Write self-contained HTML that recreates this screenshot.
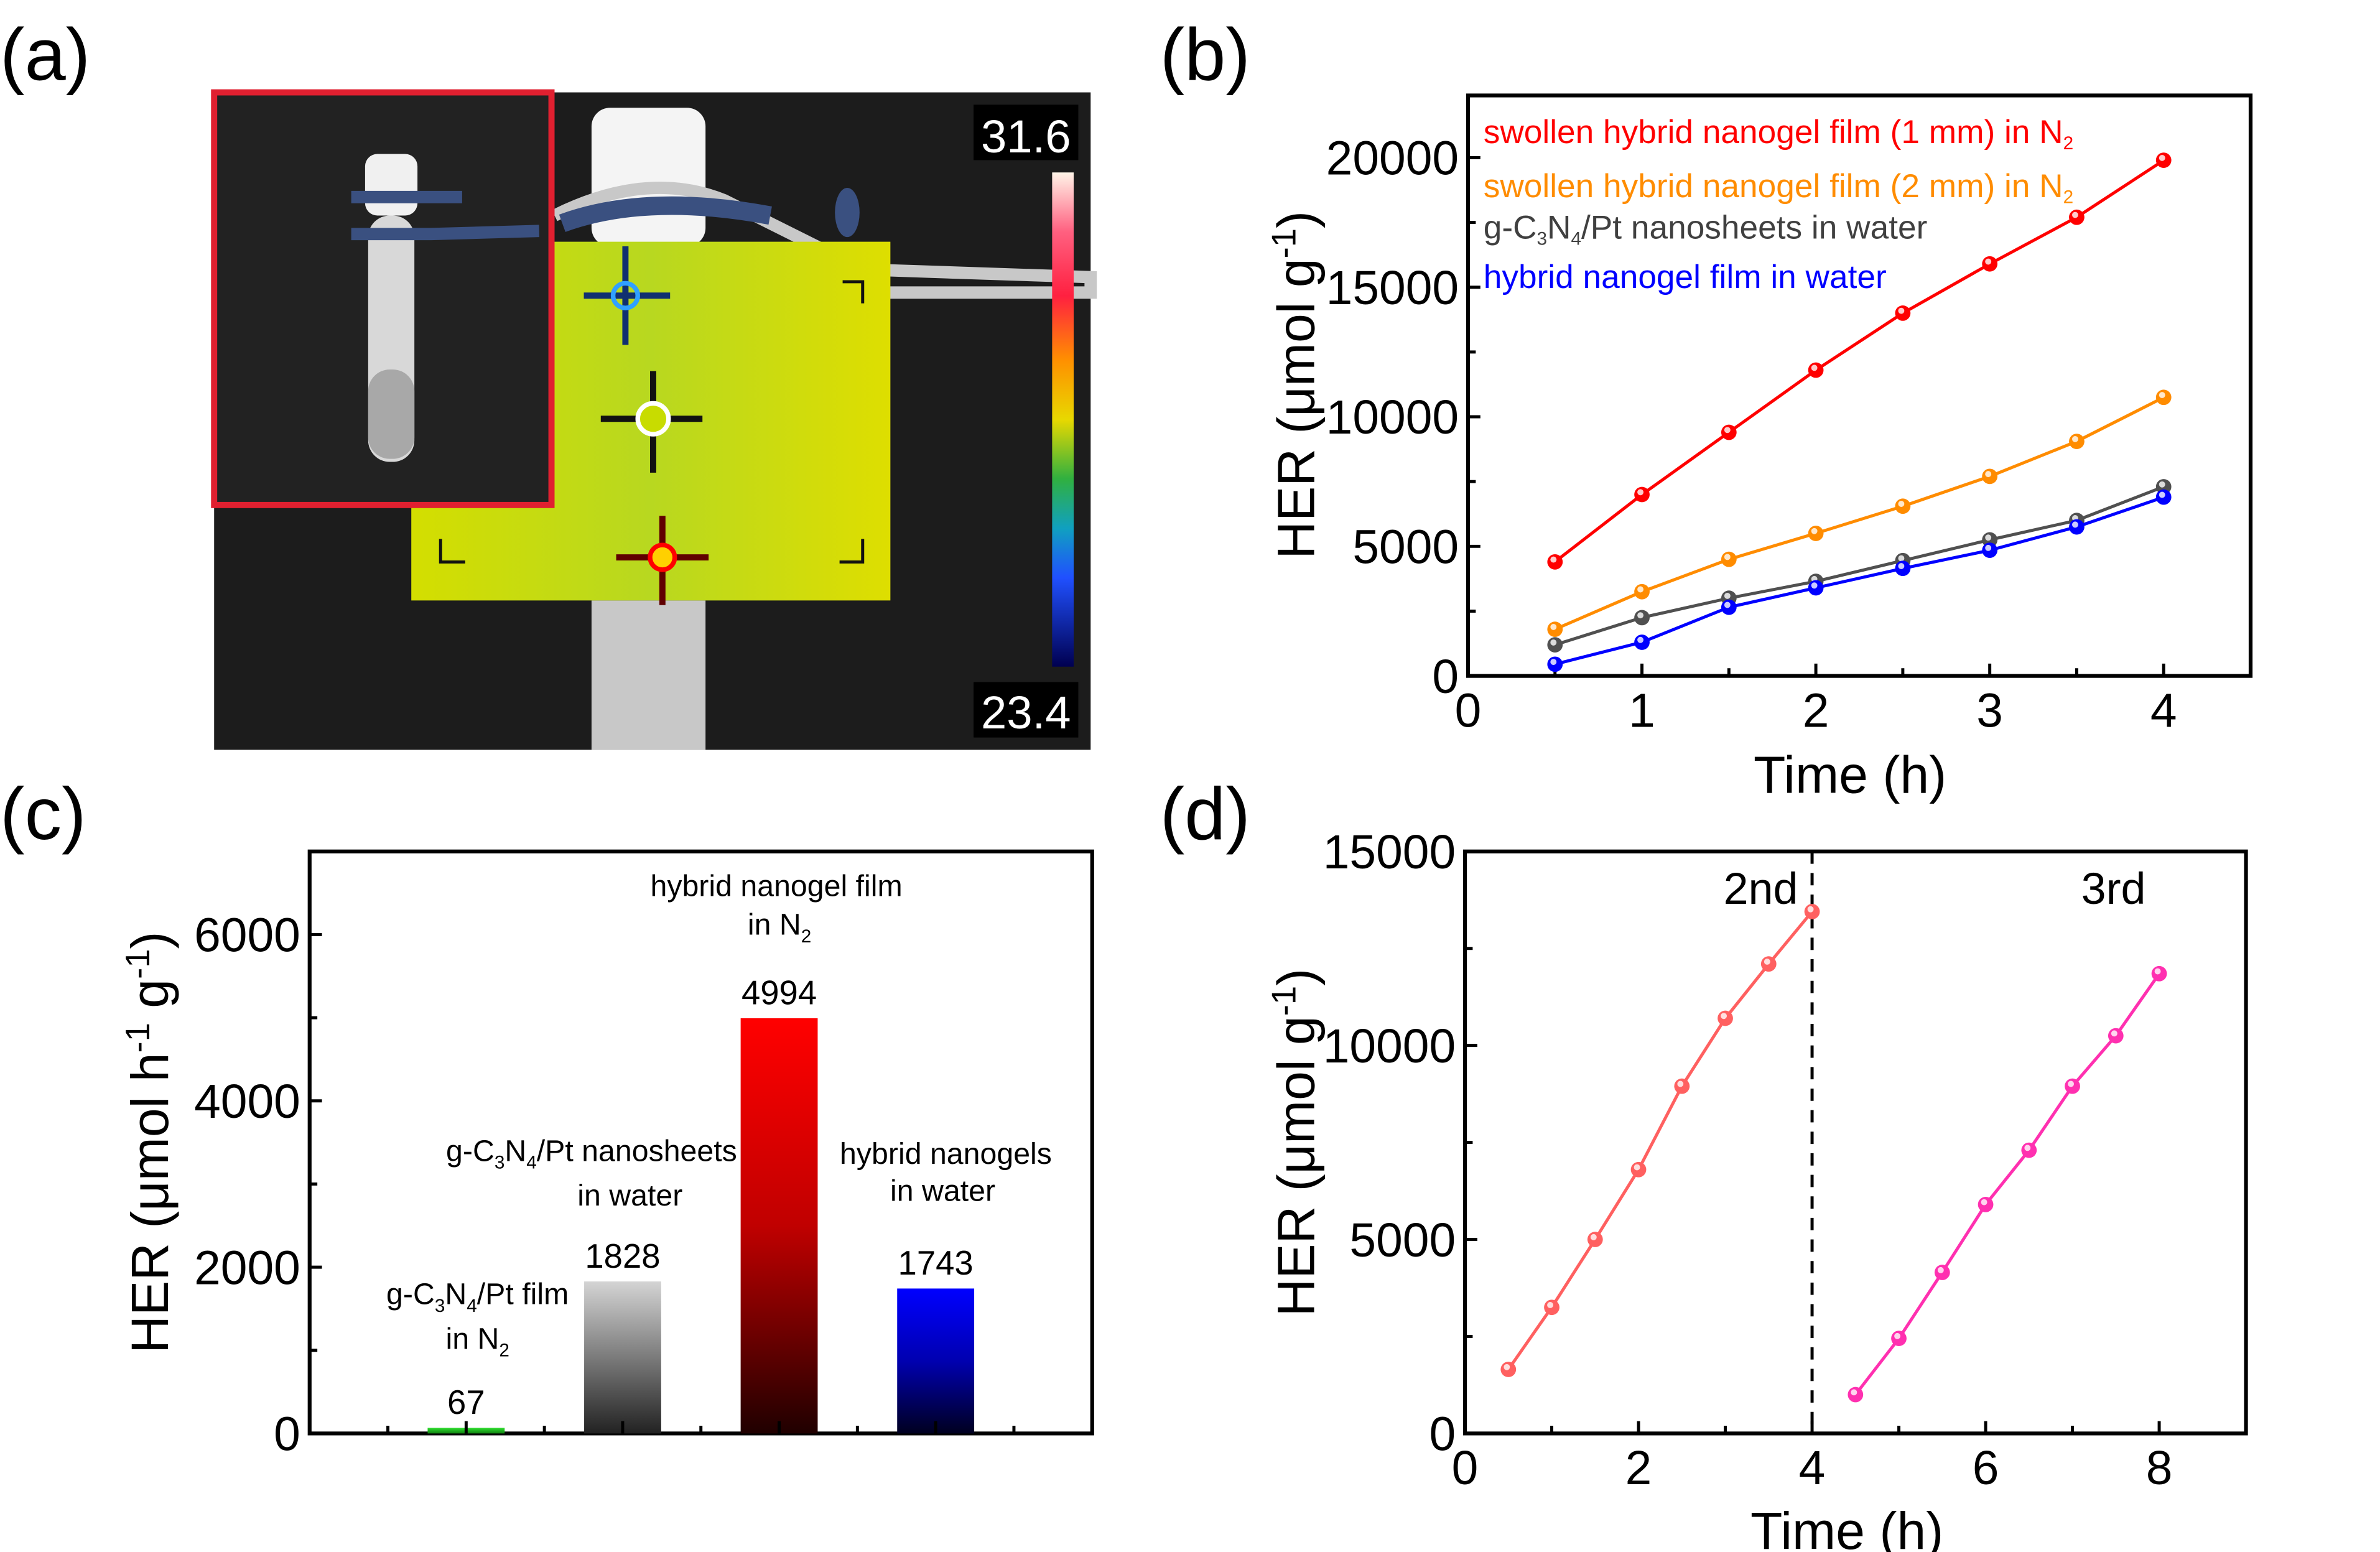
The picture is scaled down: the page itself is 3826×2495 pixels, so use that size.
<!DOCTYPE html>
<html><head><meta charset="utf-8"><style>
html,body{margin:0;padding:0;background:#fff;}
svg{display:block;}
text{font-family:"Liberation Sans Narrow","Liberation Sans",sans-serif;}
</style></head><body>
<svg id="fig" xmlns="http://www.w3.org/2000/svg" width="3826" height="2495" viewBox="0 0 1545 1008" preserveAspectRatio="none">
<defs>
<linearGradient id="cbar" x1="0" y1="0" x2="0" y2="1">
<stop offset="0" stop-color="#fff4e8"/><stop offset="0.12" stop-color="#ff6080"/><stop offset="0.25" stop-color="#ff2040"/><stop offset="0.38" stop-color="#ff9000"/><stop offset="0.5" stop-color="#e8d800"/><stop offset="0.62" stop-color="#30b040"/><stop offset="0.72" stop-color="#10a0c0"/><stop offset="0.82" stop-color="#2050ff"/><stop offset="1" stop-color="#000050"/>
</linearGradient>
<linearGradient id="gGray" x1="0" y1="0" x2="0" y2="1"><stop offset="0" stop-color="#d4d4d4"/><stop offset="1" stop-color="#222"/></linearGradient>
<linearGradient id="gRed" x1="0" y1="0" x2="0" y2="1"><stop offset="0" stop-color="#ff0000"/><stop offset="0.5" stop-color="#c00000"/><stop offset="1" stop-color="#200000"/></linearGradient>
<linearGradient id="gBlue" x1="0" y1="0" x2="0" y2="1"><stop offset="0" stop-color="#0000ff"/><stop offset="0.5" stop-color="#0000b0"/><stop offset="1" stop-color="#000020"/></linearGradient>
<linearGradient id="gGreen" x1="0" y1="0" x2="0" y2="1"><stop offset="0" stop-color="#30e030"/><stop offset="1" stop-color="#108010"/></linearGradient>
<linearGradient id="yel" x1="0" y1="0" x2="1" y2="0"><stop offset="0" stop-color="#d4de00"/><stop offset="0.5" stop-color="#b8d820"/><stop offset="1" stop-color="#dede00"/></linearGradient>
</defs>

<text x="0" y="52" font-size="48" style="font-family:'Liberation Sans',sans-serif">(a)</text>
<text x="753" y="52" font-size="48" style="font-family:'Liberation Sans',sans-serif">(b)</text>
<text x="0" y="545" font-size="48" style="font-family:'Liberation Sans',sans-serif">(c)</text>
<text x="753" y="545" font-size="48" style="font-family:'Liberation Sans',sans-serif">(d)</text>

<g>
<rect x="139" y="60" width="569" height="427" fill="#1c1c1c"/>
<rect x="384" y="70" width="74" height="90" rx="12" fill="#f4f4f4"/>
<rect x="384" y="390" width="74" height="97" fill="#c8c8c8"/>
<path d="M360 140 Q420 110 470 130 L560 175 L708 180 L708 190 L560 190" stroke="#c8c8c8" stroke-width="8" fill="none"/>
<path d="M365 145 Q420 125 500 140" stroke="#3a5080" stroke-width="12" fill="none"/>
<ellipse cx="550" cy="138" rx="8" ry="16" fill="#3a5080"/>
<rect x="267" y="157" width="311" height="233" fill="url(#yel)"/>
<g stroke-width="4">
<path d="M406 160 V224 M379 192 H435" stroke="#103070"/><circle cx="406" cy="192" r="8" fill="none" stroke="#30a0ff" stroke-width="3"/>
<path d="M424 241 V307 M390 272 H456" stroke="#111"/><circle cx="424" cy="272" r="10" fill="#c8dc00" stroke="#fff" stroke-width="3"/>
<path d="M430 335 V393 M400 362 H460" stroke="#600000"/><circle cx="430" cy="362" r="8" fill="#ffd000" stroke="#f00" stroke-width="3"/>
</g>
<path d="M547 183 H560 V197 M286 350 V365 H302 M545 365 H560 V350" stroke="#111" stroke-width="2" fill="none"/>
<rect x="139" y="60" width="219" height="268" fill="#222" stroke="#e02030" stroke-width="4"/>
<rect x="237" y="100" width="34" height="40" rx="8" fill="#f0f0f0"/>
<rect x="239" y="140" width="30" height="160" rx="14" fill="#d8d8d8"/>
<rect x="239" y="240" width="30" height="58" rx="14" fill="#a8a8a8"/>
<path d="M228 128 H300 M228 152 H280 L350 150" stroke="#3a5080" stroke-width="8" fill="none"/>
<rect x="683" y="112" width="14" height="321" fill="url(#cbar)"/>
<rect x="632" y="68" width="68" height="36" fill="#000"/>
<text x="666" y="99" font-size="30" fill="#fff" text-anchor="middle">31.6</text>
<rect x="632" y="443" width="68" height="36" fill="#000"/>
<text x="666" y="473" font-size="30" fill="#fff" text-anchor="middle">23.4</text>
</g>

<g id="pb"></g>
<g id="pc"></g>
<g id="pd"></g>
</svg>
<script>
// Panel b data
const bTimes = [0.5,1,1.5,2,2.5,3,3.5,4];
const bRed = [4400,7000,9400,11800,14000,15900,17700,19900];
const bOrange = [1800,3250,4500,5500,6550,7700,9050,10750];
const bGray = [1200,2250,3000,3650,4450,5250,6000,7300];
const bBlue = [450,1300,2650,3400,4150,4850,5750,6900];
const bXTicks = [0,1,2,3,4];
const bYTicks = [0,5000,10000,15000,20000];
// Panel c data
const cLabels = ["g-C3N4/Pt film in N2","g-C3N4/Pt nanosheets in water","hybrid nanogel film in N2","hybrid nanogels in water"];
const cValues = [67,1828,4994,1743];
const cYTicks = [0,2000,4000,6000];
// Panel d data
const d2Times = [0.5,1,1.5,2,2.5,3,3.5,4];
const d2Vals = [1650,3250,5000,6800,8950,10700,12100,13450];
const d3Times = [4.5,5,5.5,6,6.5,7,7.5,8];
const d3Vals = [1000,2450,4150,5900,7300,8950,10250,11850];
const dXTicks = [0,2,4,6,8];
const dYTicks = [0,5000,10000,15000];

const NS="http://www.w3.org/2000/svg";
function mk(parent,tag,attrs,txt){const e=document.createElementNS(NS,tag);for(const k in attrs)e.setAttribute(k,attrs[k]);if(txt!==undefined)e.textContent=txt;parent.appendChild(e);return e;}
function lin(d0,d1,r0,r1){return v=>r0+(v-d0)/(d1-d0)*(r1-r0);}

function frame(g,L,T,R,B){const r=mk(g,'rect',{x:L,y:T,width:R-L,height:B-T,fill:'none',stroke:'#000','stroke-width':2.5});

}

function series(g,xs,ys,X,Y,col,name){
  const pts=xs.map((x,i)=>X(x).toFixed(1)+','+Y(ys[i]).toFixed(1)).join(' ');
  const pl=mk(g,'polyline',{points:pts,fill:'none',stroke:col,'stroke-width':2});
  
  
  xs.forEach((x,i)=>{
    const c=mk(g,'circle',{cx:X(x),cy:Y(ys[i]),r:5,fill:col});
    
    
    mk(g,'circle',{cx:X(x)-1,cy:Y(ys[i])-1.5,r:2,fill:'#fff',opacity:0.8});
  });
}

// ---- Panel b ----
(function(){
const g=document.getElementById('pb');
const L=953,R=1461,T=62,B=439;
const X=lin(0,4.5,L,R), Y=lin(0,22400,B,T);
frame(g,L,T,R,B);
for(let v=0;v<=4.5;v+=0.5){mk(g,'line',{x1:X(v),x2:X(v),y1:B,y2:B-(v%1===0?8:5),stroke:'#000','stroke-width':2});}
for(let v=0;v<=22000;v+=2500){mk(g,'line',{x1:L,x2:L+(v%5000===0?8:5),y1:Y(v),y2:Y(v),stroke:'#000','stroke-width':2});}
bXTicks.forEach(v=>{const t=mk(g,'text',{x:X(v),y:B+33,'font-size':31,'text-anchor':'middle'},String(v));

});
bYTicks.forEach(v=>{const t=mk(g,'text',{x:L-6,y:Y(v)+11,'font-size':31,'text-anchor':'end'},String(v));

});
series(g,bTimes,bGray,X,Y,'#505050','gray-series');
series(g,bTimes,bBlue,X,Y,'#0000ff','blue-series');
series(g,bTimes,bOrange,X,Y,'#ff8c00','orange-series');
series(g,bTimes,bRed,X,Y,'#ff0000','red-series');
const xt=mk(g,'text',{x:1201,y:515,'font-size':34,'text-anchor':'middle',style:"font-family:'Liberation Sans',sans-serif"},'Time (h)');


const yt=mk(g,'text',{x:0,y:0,'font-size':34,'text-anchor':'middle',transform:'translate(853,250) rotate(-90)',style:"font-family:'Liberation Sans',sans-serif"});
yt.innerHTML='HER (μmol g<tspan dy="-12" font-size="22">-1</tspan><tspan dy="12">)</tspan>';


const leg=[['swollen hybrid nanogel film (1 mm) in N','2','#ff0000',93],['swollen hybrid nanogel film (2 mm) in N','2','#ff8c00',128],['g-C','','#404040',155],['hybrid nanogel film in water','','#0000ff',187]];
leg.forEach((l,i)=>{
  const t=mk(g,'text',{x:963,y:l[3],'font-size':21.5,fill:l[2],style:"font-family:'Liberation Sans',sans-serif"});
  if(i===2) t.innerHTML='g-C<tspan font-size="12" dy="4">3</tspan><tspan dy="-4">N</tspan><tspan font-size="12" dy="4">4</tspan><tspan dy="-4">/Pt nanosheets  in water</tspan>';
  else if(l[1]) t.innerHTML=l[0]+'<tspan font-size="12" dy="4">2</tspan>';
  else t.textContent=l[0];
  
  
});
})();

// ---- Panel c ----
(function(){
const g=document.getElementById('pc');
const L=201,R=709,T=553,B=931;
const X=lin(0,5,L,R), Y=lin(0,7000,B,T);
frame(g,L,T,R,B);
const fills=['url(#gGreen)','url(#gGray)','url(#gRed)','url(#gBlue)'];
cValues.forEach((v,i)=>{
  const x=X(i+1);
  const b=mk(g,'rect',{x:x-25,y:Y(v),width:50,height:B-Y(v),fill:fills[i]});
  
  
  const t=mk(g,'text',{x:x,y:Y(v)-9,'font-size':22,'text-anchor':'middle',style:"font-family:'Liberation Sans',sans-serif"},String(v));
  
  
});
for(let v=0.5;v<=4.5;v+=0.5){mk(g,'line',{x1:X(v),x2:X(v),y1:B,y2:B-(v%1===0?8:5),stroke:'#000','stroke-width':2});}
for(let v=0;v<=7000;v+=1000){mk(g,'line',{x1:L,x2:L+(v%2000===0?8:5),y1:Y(v),y2:Y(v),stroke:'#000','stroke-width':2});}
cYTicks.forEach(v=>{const t=mk(g,'text',{x:L-6,y:Y(v)+11,'font-size':31,'text-anchor':'end'},String(v));

});
const ann=[
 [310,847,'g-C<tspan font-size="12" dy="5">3</tspan><tspan dy="-5">N</tspan><tspan font-size="12" dy="5">4</tspan><tspan dy="-5">/Pt film</tspan>'],
 [310,876,'in N<tspan font-size="12" dy="5">2</tspan>'],
 [384,754,'g-C<tspan font-size="12" dy="5">3</tspan><tspan dy="-5">N</tspan><tspan font-size="12" dy="5">4</tspan><tspan dy="-5">/Pt nanosheets</tspan>'],
 [409,783,'in water'],
 [504,582,'hybrid nanogel film'],
 [506,607,'in N<tspan font-size="12" dy="5">2</tspan>'],
 [614,756,'hybrid nanogels'],
 [612,780,'in water']];
ann.forEach(a=>{const t=mk(g,'text',{x:a[0],y:a[1],'font-size':19.5,'text-anchor':'middle',style:"font-family:'Liberation Sans',sans-serif"});
t.innerHTML=a[2];

});
const yt=mk(g,'text',{x:0,y:0,'font-size':34,'text-anchor':'middle',transform:'translate(109,742) rotate(-90)',style:"font-family:'Liberation Sans',sans-serif"});
yt.innerHTML='HER (μmol h<tspan dy="-12" font-size="22">-1</tspan><tspan dy="12"> g</tspan><tspan dy="-12" font-size="22">-1</tspan><tspan dy="12">)</tspan>';


})();

// ---- Panel d ----
(function(){
const g=document.getElementById('pd');
const L=951,R=1458,T=553,B=931;
const X=lin(0,9,L,R), Y=lin(0,15000,B,T);
frame(g,L,T,R,B);
for(let v=0;v<=9;v+=1){mk(g,'line',{x1:X(v),x2:X(v),y1:B,y2:B-(v%2===0?8:5),stroke:'#000','stroke-width':2});}
for(let v=0;v<=15000;v+=2500){mk(g,'line',{x1:L,x2:L+(v%5000===0?8:5),y1:Y(v),y2:Y(v),stroke:'#000','stroke-width':2});}
dXTicks.forEach(v=>{const t=mk(g,'text',{x:X(v),y:B+33,'font-size':31,'text-anchor':'middle'},String(v));

});
dYTicks.forEach(v=>{const t=mk(g,'text',{x:L-6,y:Y(v)+11,'font-size':31,'text-anchor':'end'},String(v));

});
const dl=mk(g,'line',{x1:X(4),x2:X(4),y1:T,y2:B,stroke:'#000','stroke-width':2,'stroke-dasharray':'8,6'});


series(g,d2Times,d2Vals,X,Y,'#ff6060','second-cycle');
series(g,d3Times,d3Vals,X,Y,'#ff30b0','third-cycle');
const l2=mk(g,'text',{x:1143,y:587,'font-size':29,'text-anchor':'middle'},'2nd');


const l3=mk(g,'text',{x:1372,y:587,'font-size':29,'text-anchor':'middle'},'3rd');


const xt=mk(g,'text',{x:1199,y:1006,'font-size':34,'text-anchor':'middle',style:"font-family:'Liberation Sans',sans-serif"},'Time (h)');


const yt=mk(g,'text',{x:0,y:0,'font-size':34,'text-anchor':'middle',transform:'translate(853,742) rotate(-90)',style:"font-family:'Liberation Sans',sans-serif"});
yt.innerHTML='HER (μmol g<tspan dy="-12" font-size="22">-1</tspan><tspan dy="12">)</tspan>';


})();
</script>
</body></html>
